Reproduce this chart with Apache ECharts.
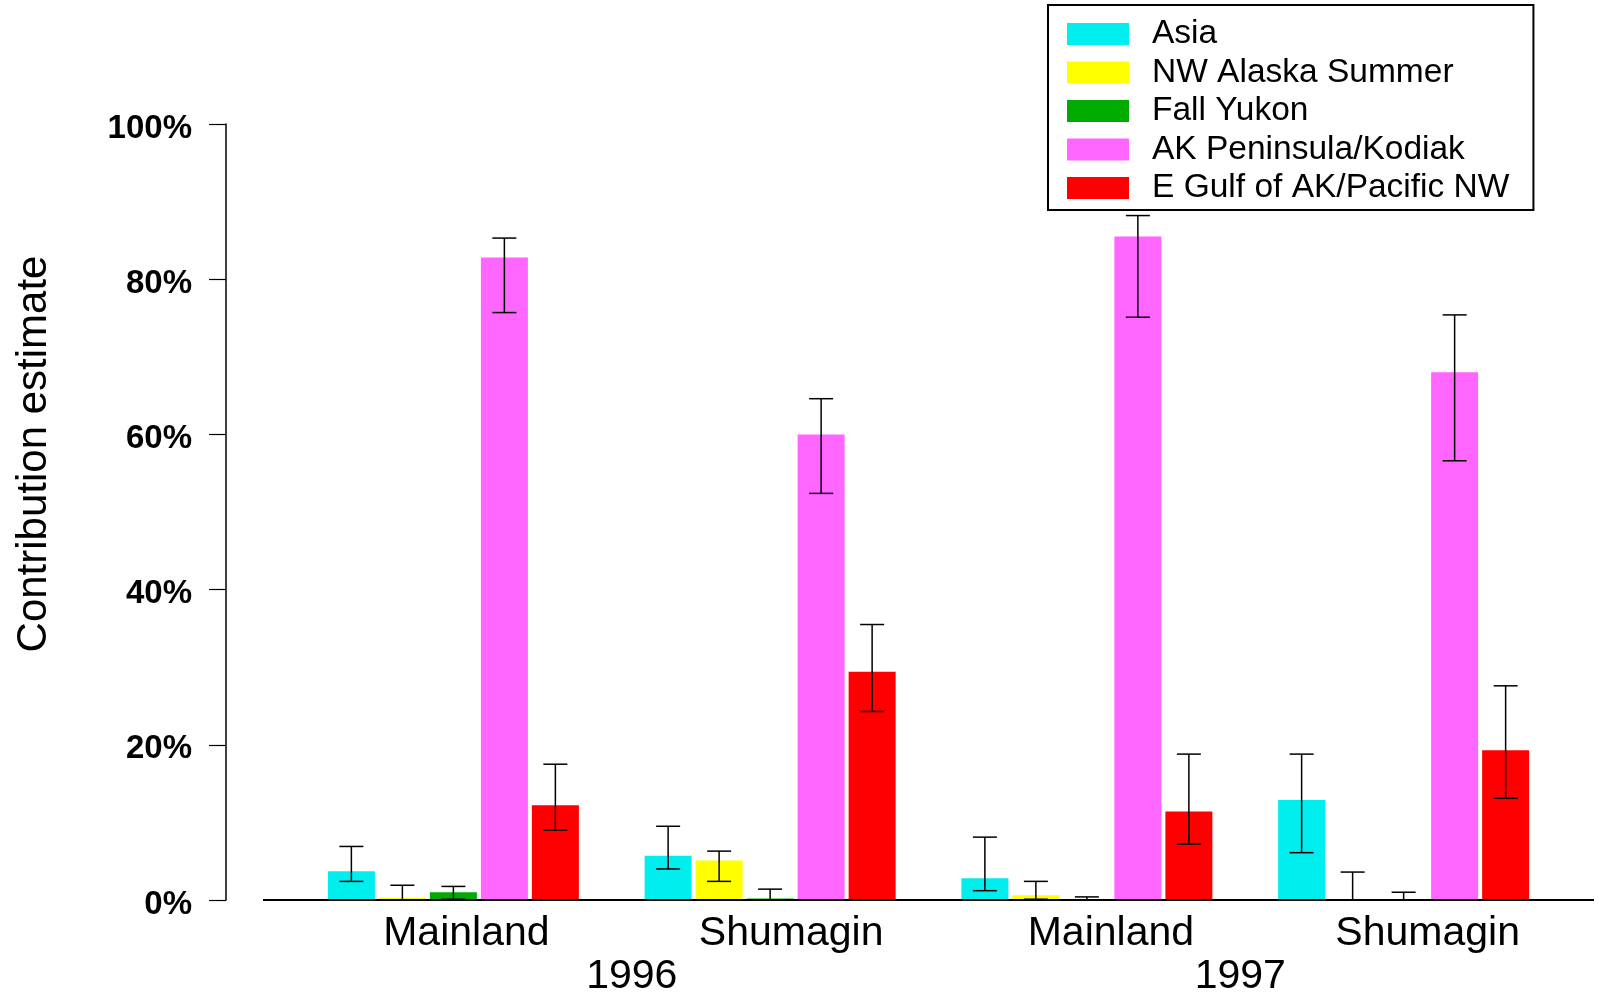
<!DOCTYPE html>
<html>
<head>
<meta charset="utf-8">
<title>Contribution estimate</title>
<script src="https://cdn.jsdelivr.net/npm/echarts@6/dist/echarts.min.js"></script>
<style>
  html, body { margin: 0; padding: 0; background: #fff; }
  #main { width: 1599px; height: 994px; }
</style>
</head>
<body>
<div id="main"></div>
<script>
// groups along the x axis
const categories = ['Mainland', 'Shumagin', 'Mainland', 'Shumagin']
const years = ['1996', '1997']
const yTicks = [0, 20, 40, 60, 80, 100]

// contribution estimates (%), with lower / upper error limits
const asia = [3.7, 5.7, 2.8, 12.9]
const asiaLow = [2.4, 4.0, 1.2, 6.1]
const asiaHigh = [6.9, 9.5, 8.1, 18.8]

const nwAlaska = [0.3, 5.1, 0.6, 0]
const nwAlaskaLow = [0, 2.4, 0.1, 0]
const nwAlaskaHigh = [1.9, 6.3, 2.4, 3.6]

const fallYukon = [1.0, 0.2, 0.05, 0]
const fallYukonLow = [0.1, 0, 0, 0]
const fallYukonHigh = [1.75, 1.4, 0.4, 1.0]

const akPeninsula = [82.8, 60.0, 85.5, 68.0]
const akPeninsulaLow = [75.7, 52.4, 75.1, 56.6]
const akPeninsulaHigh = [85.3, 64.6, 88.2, 75.4]

const eGulf = [12.2, 29.4, 11.4, 19.3]
const eGulfLow = [9.0, 24.3, 7.2, 13.1]
const eGulfHigh = [17.5, 35.5, 18.8, 27.6]

const seriesNames = ['Asia', 'NW Alaska Summer', 'Fall Yukon', 'AK Peninsula/Kodiak', 'E Gulf of AK/Pacific NW']
const seriesValues = [asia, nwAlaska, fallYukon, akPeninsula, eGulf]
const seriesLows = [asiaLow, nwAlaskaLow, fallYukonLow, akPeninsulaLow, eGulfLow]
const seriesHighs = [asiaHigh, nwAlaskaHigh, fallYukonHigh, akPeninsulaHigh, eGulfHigh]
const colors = ['#00eeee', '#ffff00', '#00aa00', '#ff66ff', '#ff0000']

const FONT = '"Liberation Sans", Arial, sans-serif'
const BAR_W = 47
const BAR_GAP = 4
const CAP_W = 24
// labels are not centred under their groups in the original, nudge them (px)
const groupLabelShift = [13, 21, 24, 24]
const yearLabelShift = [20, -5]

function shiftPadding (s) {
  return s >= 0 ? [0, 0, 0, 2 * s] : [0, -2 * s, 0, 0]
}

const chart = echarts.init(document.getElementById('main'))

function errorRender (k) {
  return function (params, api) {
    const shift = (k - 2) * (BAR_W + BAR_GAP)
    const base = api.coord([api.value(0), 0])
    const lo = api.coord([api.value(0), api.value(1)])
    const hi = api.coord([api.value(0), api.value(2)])
    const x = base[0] + shift
    const style = { stroke: '#000', lineWidth: 1.5 }
    return {
      type: 'group',
      children: [
        { type: 'line', shape: { x1: x, y1: lo[1], x2: x, y2: hi[1] }, style: style },
        { type: 'line', shape: { x1: x - CAP_W / 2, y1: hi[1], x2: x + CAP_W / 2, y2: hi[1] }, style: style },
        { type: 'line', shape: { x1: x - CAP_W / 2, y1: lo[1], x2: x + CAP_W / 2, y2: lo[1] }, style: style }
      ]
    }
  }
}

let series = []
for (let k = 0; k < seriesNames.length; k++) {
  series.push({
    name: seriesNames[k],
    type: 'bar',
    xAxisIndex: 0,
    barWidth: BAR_W,
    barGap: (BAR_GAP / BAR_W * 100) + '%',
    itemStyle: { color: colors[k] },
    data: seriesValues[k]
  })
}
for (let k = 0; k < seriesNames.length; k++) {
  series.push({
    name: seriesNames[k] + ' error',
    type: 'custom',
    xAxisIndex: 0,
    z: 10,
    renderItem: errorRender(k),
    encode: { x: 0, y: [1, 2] },
    data: categories.map((c, i) => [i, seriesLows[k][i], seriesHighs[k][i]])
  })
}

const option = {
  animation: false,
  backgroundColor: '#fff',
  textStyle: { fontFamily: FONT },
  grid: { left: 295, right: 37, top: 124, bottom: 94, outerBoundsMode: 'none', containLabel: false },
  legend: {
    data: seriesNames,
    orient: 'vertical',
    left: 1048,
    top: 5,
    selectedMode: false,
    icon: 'rect',
    itemWidth: 62,
    itemHeight: 22,
    itemGap: 4.5,
    padding: [12, 24, 5, 19],
    borderColor: '#000',
    borderWidth: 2,
    textStyle: { fontSize: 33.5, lineHeight: 33.5, color: '#000', fontFamily: FONT, padding: [0, 0, 0, 18] }
  },
  xAxis: [
    {
      type: 'category',
      data: categories.map((c, i) => ({ value: c, textStyle: { padding: shiftPadding(groupLabelShift[i]) } })),
      axisLine: { show: false },
      axisTick: { show: false },
      axisLabel: { fontSize: 41, color: '#000', margin: 13 }
    },
    {
      type: 'category',
      data: years.map((y, i) => ({ value: y, textStyle: { padding: shiftPadding(yearLabelShift[i]) } })),
      position: 'bottom',
      axisLine: { show: false },
      axisTick: { show: false },
      axisLabel: { fontSize: 41, color: '#000', margin: 56 }
    }
  ],
  yAxis: {
    type: 'value',
    min: yTicks[0],
    max: yTicks[yTicks.length - 1],
    interval: yTicks[1] - yTicks[0],
    offset: 69,
    splitLine: { show: false },
    axisLine: { show: true, lineStyle: { color: '#000', width: 1.5 } },
    axisTick: { show: true, length: 17, lineStyle: { color: '#000', width: 1.2 } },
    axisLabel: {
      formatter: '{t|{value}%}',
      color: '#000',
      margin: 34,
      rich: { t: { fontSize: 33, fontWeight: 'bold', color: '#000', fontFamily: FONT, padding: [9, 0, 0, 0] } }
    }
  },
  graphic: [
    {
      type: 'line',
      shape: { x1: 263, y1: 900, x2: 1594, y2: 900 },
      style: { stroke: '#000', lineWidth: 2 },
      z: 20
    },
    {
      type: 'text',
      x: 34,
      y: 454,
      rotation: Math.PI / 2,
      style: {
        text: 'Contribution estimate',
        font: '42px ' + FONT,
        fill: '#000',
        textAlign: 'center',
        textVerticalAlign: 'middle'
      }
    }
  ],
  series: series
}

chart.setOption(option)
</script>
</body>
</html>
